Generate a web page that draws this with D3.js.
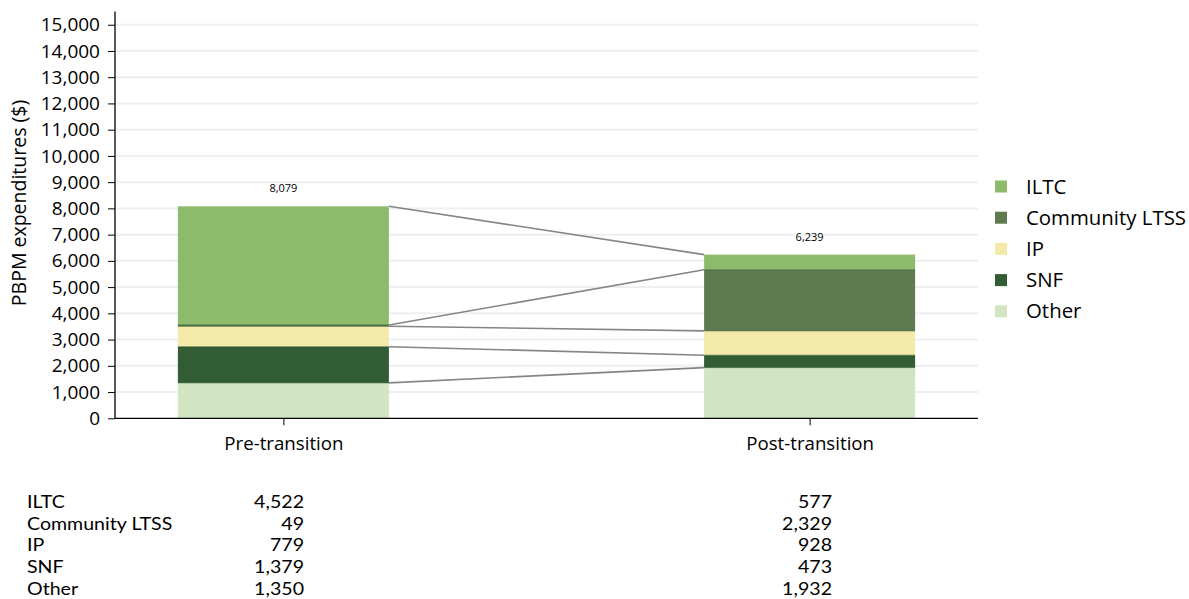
<!DOCTYPE html>
<html><head><meta charset="utf-8">
<script src="https://cdn.jsdelivr.net/npm/d3@7"></script>
<style>
body{margin:0;background:#fff;}
svg{display:block;}
</style></head>
<body>
<svg id="chart" width="1189" height="599"></svg>
<script>
const periods = ["Pre-transition", "Post-transition"];
const seriesNames = ["Other", "SNF", "IP", "Community LTSS", "ILTC"]; // bottom to top
const legendOrder = ["ILTC", "Community LTSS", "IP", "SNF", "Other"];
const preValues = {"ILTC": 4522, "Community LTSS": 49, "IP": 779, "SNF": 1379, "Other": 1350};
const postValues = {"ILTC": 577, "Community LTSS": 2329, "IP": 928, "SNF": 473, "Other": 1932};
const totals = [8079, 6239];
const colors = {"ILTC": "#8dbb6b", "Community LTSS": "#5e7a4f", "IP": "#f3eaa9", "SNF": "#325c33", "Other": "#d1e5c3"};
const yTicks = d3.range(0, 15001, 1000);

const svg = d3.select("#chart");
const axisFont = "'Open Sans', 'Noto Sans', sans-serif";
const tableFont = "'Liberation Sans Narrow', Lato, sans-serif";

const x = d3.scalePoint().domain(periods).range([115, 978]).padding(0.32);
const barW = 211;
const y = d3.scaleLinear().domain([0, 15500]).range([418.3, 11.6]);

const rows = periods.map((p, i) => {
  const vals = i === 0 ? preValues : postValues;
  const o = {period: p};
  seriesNames.forEach(s => o[s] = vals[s]);
  return o;
});
const stacked = d3.stack().keys(seriesNames)(rows);

// gridlines
svg.append("g").selectAll("line").data(yTicks.filter(t => t > 0)).join("line")
  .attr("x1", 116).attr("x2", 978)
  .attr("y1", d => y(d)).attr("y2", d => y(d))
  .attr("stroke", "#ebf0f3").attr("stroke-width", 2);

// bars
const g = svg.append("g");
stacked.forEach(layer => {
  g.append("g").selectAll("rect").data(layer).join("rect")
    .attr("x", d => x(d.data.period) - barW / 2)
    .attr("width", barW)
    .attr("y", d => y(d[1]))
    .attr("height", d => y(d[0]) - y(d[1]))
    .attr("fill", colors[layer.key]);
});
stacked.slice(0, -1).forEach(layer => {
  g.append("g").selectAll("line").data(layer).join("line")
    .attr("x1", d => x(d.data.period) - barW / 2)
    .attr("x2", d => x(d.data.period) + barW / 2)
    .attr("y1", d => y(d[1])).attr("y2", d => y(d[1]))
    .attr("stroke", "#2f5a2f").attr("stroke-opacity", 0.6).attr("stroke-width", 1);
});

// connector lines
stacked.forEach(layer => {
  const a = layer[0], b = layer[1];
  svg.append("line")
    .attr("x1", x(periods[0]) + barW / 2).attr("y1", y(a[1]))
    .attr("x2", x(periods[1]) - barW / 2).attr("y2", y(b[1]))
    .attr("stroke", "#858585").attr("stroke-width", 1.6);
});

// total labels
svg.append("g").selectAll("text").data(totals).join("text")
  .attr("x", (d, i) => x(periods[i]))
  .attr("y", d => y(d) - 14)
  .attr("text-anchor", "middle")
  .attr("font-family", axisFont).attr("font-size", 11).attr("fill", "#000")
  .text(d => d3.format(",")(d));

// y axis
const yAxis = d3.axisLeft(y).tickValues(yTicks).tickFormat(d3.format(",")).tickSize(7).tickSizeOuter(0);
const ya = svg.append("g").attr("transform", "translate(115,0)").call(yAxis);
ya.select(".domain").attr("stroke", "#000").attr("stroke-width", 1.3).attr("d", `M0,${y(15500)}V${y(0)}`);
ya.selectAll(".tick line").attr("stroke", "#000");
ya.selectAll("text").attr("font-family", axisFont).attr("font-size", 19).attr("fill", "#000").attr("x", -15);

// x axis
const xAxis = d3.axisBottom(x).tickSize(7).tickSizeOuter(0);
const xa = svg.append("g").attr("transform", `translate(0,${y(0)})`).call(xAxis);
xa.select(".domain").attr("stroke", "#000").attr("stroke-width", 1.3).attr("d", "M115,0H978");
xa.selectAll(".tick line").attr("stroke", "#000");
xa.selectAll("text").attr("font-family", axisFont).attr("font-size", 18.7).attr("fill", "#000").attr("y", 18);

// y title
svg.append("text")
  .attr("transform", "translate(26,203) rotate(-90)")
  .attr("text-anchor", "middle")
  .attr("font-family", axisFont).attr("font-size", 19.5).attr("fill", "#000")
  .text("PBPM expenditures ($)");

// legend
const lg = svg.append("g").selectAll("g").data(legendOrder).join("g")
  .attr("transform", (d, i) => `translate(995,${186.5 + i * 31.2})`);
lg.append("rect").attr("x", 0).attr("y", -6).attr("width", 12).attr("height", 12)
  .attr("fill", d => colors[d]);
lg.append("text").attr("x", 31).attr("y", 0).attr("dy", "0.35em")
  .attr("font-family", axisFont).attr("font-size", 20.4).attr("fill", "#000")
  .text(d => d);

// data table (horizontally stretched text, like the reference's font)
const tfs = 17.5, sx = 1.12;
const tb = svg.append("g").selectAll("g").data(legendOrder).join("g")
  .attr("transform", (d, i) => `translate(0,${502 + i * 21.6})`);
tb.append("text").attr("transform", `translate(27,0) scale(${sx},1)`).attr("dy", "0.35em")
  .attr("font-family", tableFont).attr("font-size", tfs).attr("fill", "#000").text(d => d);
tb.append("text").attr("transform", `translate(304,0) scale(${sx},1)`).attr("dy", "0.35em").attr("text-anchor", "end")
  .attr("font-family", tableFont).attr("font-size", tfs).attr("fill", "#000").text(d => d3.format(",")(preValues[d]));
tb.append("text").attr("transform", `translate(832,0) scale(${sx},1)`).attr("dy", "0.35em").attr("text-anchor", "end")
  .attr("font-family", tableFont).attr("font-size", tfs).attr("fill", "#000").text(d => d3.format(",")(postValues[d]));
</script>
</body></html>
